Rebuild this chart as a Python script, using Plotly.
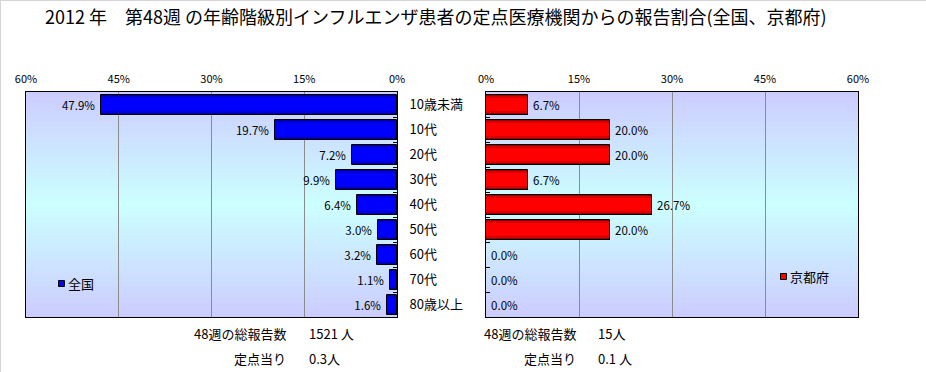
import plotly.graph_objects as go

# ---- data ----
categories = ["10歳未満", "10代", "20代", "30代", "40代", "50代", "60代", "70代", "80歳以上"]
zenkoku = [47.9, 19.7, 7.2, 9.9, 6.4, 3.0, 3.2, 1.1, 1.6]
kyoto = [6.7, 20.0, 20.0, 6.7, 26.7, 20.0, 0.0, 0.0, 0.0]
x_ticks = [0, 15, 30, 45, 60]
title_text = "2012 年　第48週 の年齢階級別インフルエンザ患者の定点医療機関からの報告割合(全国、京都府)"
left_notes = [("48週の総報告数", "1521 人"), ("定点当り", "0.3人")]
right_notes = [("48週の総報告数", "15人"), ("定点当り", "0.1 人")]

W, H = 926, 372
FONT = "Noto Sans CJK JP"
NBSP = "\u00a0"

def px_x(v):
    return v / W

def px_y(v):
    return 1 - v / H

left_dom = [px_x(26), px_x(397)]
right_dom = [px_x(486), px_x(858)]
y_dom = [px_y(317), px_y(92)]

fig = go.Figure()

blue_layers = [(0.80, "#00005A"), (0.74, "#00009A"), (0.66, "#0000D8"), (0.54, "#0000FF")]
red_layers = [(0.80, "#5A0000"), (0.74, "#9A0000"), (0.66, "#D80000"), (0.54, "#FF0000")]

def add_panel(values, layers, xa, ya, name, labels):
    for w, c in layers:
        fig.add_trace(go.Bar(
            x=values, y=categories, orientation="h", width=w,
            marker=dict(color=c, line=dict(width=0)),
            xaxis=xa, yaxis=ya, showlegend=False, hoverinfo="skip",
        ))
    fig.add_trace(go.Bar(
        x=values, y=categories, orientation="h", width=0.80, name=name,
        marker=dict(color="rgba(0,0,0,0)", line=dict(color="black", width=1)),
        text=labels, textposition="outside",
        textfont=dict(family=FONT, size=11.5, color="black"),
        cliponaxis=False, constraintext="none",
        xaxis=xa, yaxis=ya, showlegend=False,
    ))

add_panel(zenkoku, blue_layers, "x", "y", "全国", [f"{v:.1f}%" + NBSP for v in zenkoku])
add_panel(kyoto, red_layers, "x2", "y2", "京都府", [NBSP + f"{v:.1f}%" for v in kyoto])

xcommon = dict(
    side="top", tickvals=x_ticks, ticktext=[f"{t}%" for t in x_ticks],
    showgrid=True, gridcolor="#8C8C8C", gridwidth=1,
    showline=True, mirror=True, linecolor="black", linewidth=1,
    zeroline=False, ticks="", tickfont=dict(family=FONT, size=11, color="black"),
    ticklabelstandoff=4, fixedrange=True, automargin=False,
)
ycommon = dict(
    type="category", categoryorder="array", categoryarray=categories,
    autorange="reversed", ticks="inside", tickson="boundaries", ticklen=4,
    tickcolor="black", showline=True, mirror=True, linecolor="black",
    linewidth=1, showgrid=False, zeroline=False, domain=y_dom, fixedrange=True,
    automargin=False,
)

fig.update_layout(
    width=W, height=H, margin=dict(l=0, r=0, t=0, b=0, pad=0, autoexpand=False),
    autosize=False,
    paper_bgcolor="white", plot_bgcolor="#CCE6FF",
    barmode="overlay", bargap=0, showlegend=False,
    font=dict(family=FONT, color="black"),
    xaxis=dict(domain=left_dom, range=[60, 0], anchor="y", **xcommon),
    xaxis2=dict(domain=right_dom, range=[0, 60], anchor="y2", **xcommon),
    yaxis=dict(anchor="x", side="right", showticklabels=True,
               tickfont=dict(family=FONT, size=13, color="black"),
               ticklabelstandoff=9, **ycommon),
    yaxis2=dict(anchor="x2", side="left", showticklabels=False, **ycommon),
)

# background gradient (lavender -> cyan -> lavender)
shapes = []
N = 45
for xr, yr in (("x domain", "y domain"), ("x2 domain", "y2 domain")):
    for i in range(N):
        t = (i + 0.5) / N
        f = 1 - abs(2 * t - 1)
        g = int(round(204 + 51 * f))
        shapes.append(dict(
            type="rect", xref=xr, yref=yr, x0=0, x1=1,
            y0=1 - i / N, y1=1 - (i + 1) / N - 0.002,
            fillcolor=f"rgb(204,{g},255)", line=dict(width=0), layer="below",
        ))

# outer light border
shapes.append(dict(type="line", xref="paper", yref="paper", x0=0, x1=1,
                   y0=px_y(0.5), y1=px_y(0.5), line=dict(color="#D4D4D4", width=1)))
shapes.append(dict(type="line", xref="paper", yref="paper", x0=px_x(0.5), x1=px_x(0.5),
                   y0=0, y1=1, line=dict(color="#D4D4D4", width=1)))

# legend markers
shapes.append(dict(type="rect", xref="paper", yref="paper",
                   x0=px_x(58.5), x1=px_x(64.5), y0=px_y(286.5), y1=px_y(280.5),
                   fillcolor="#0000FF", line=dict(color="black", width=1)))
shapes.append(dict(type="rect", xref="paper", yref="paper",
                   x0=px_x(780.5), x1=px_x(786.5), y0=px_y(279.5), y1=px_y(273.5),
                   fillcolor="#FF0000", line=dict(color="black", width=1)))
fig.update_layout(shapes=shapes)

ann = []
ann.append(dict(text=title_text, x=px_x(43), y=px_y(16), xref="paper", yref="paper",
                xanchor="left", yanchor="middle", showarrow=False,
                font=dict(family=FONT, size=18, color="black")))
ann.append(dict(text="全国", x=px_x(66), y=px_y(283), xref="paper", yref="paper",
                xanchor="left", yanchor="middle", showarrow=False,
                font=dict(family=FONT, size=13, color="black")))
ann.append(dict(text="京都府", x=px_x(788), y=px_y(276), xref="paper", yref="paper",
                xanchor="left", yanchor="middle", showarrow=False,
                font=dict(family=FONT, size=13, color="black")))

for notes, lab_x, val_x in ((left_notes, 288, 307), (right_notes, 578, 596)):
    for (lab, val), yy in zip(notes, (333, 358)):
        ann.append(dict(text=lab, x=px_x(lab_x), y=px_y(yy), xref="paper", yref="paper",
                        xanchor="right", yanchor="middle", showarrow=False,
                        font=dict(family=FONT, size=13, color="black")))
        ann.append(dict(text=val, x=px_x(val_x), y=px_y(yy), xref="paper", yref="paper",
                        xanchor="left", yanchor="middle", showarrow=False,
                        font=dict(family=FONT, size=13, color="black")))
fig.update_layout(annotations=ann)

fig.write_html(
    "out.html",
    config={"displayModeBar": False, "staticPlot": False},
    post_script="document.body.style.margin='0';document.body.style.overflow='hidden';",
)
